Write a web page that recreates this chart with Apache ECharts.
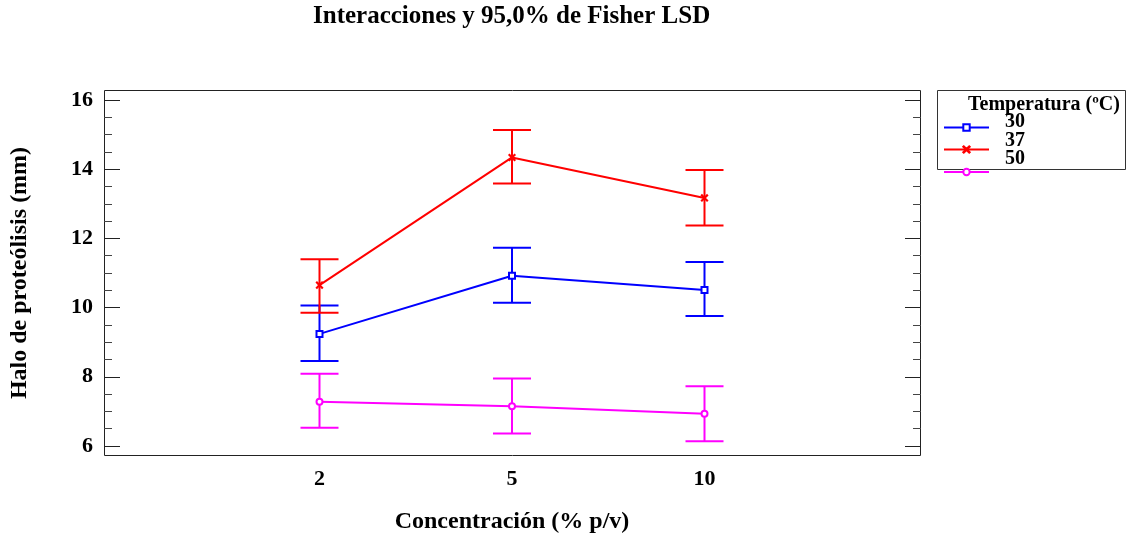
<!DOCTYPE html>
<html>
<head>
<meta charset="utf-8">
<script src="https://cdn.jsdelivr.net/npm/echarts@6/dist/echarts.min.js"></script>
<style>
  html, body { margin: 0; padding: 0; background: #fff; }
  #chart { width: 1128px; height: 535px; }
</style>
</head>
<body>
<div id="chart"></div>
<script>
// Concentration levels (% p/v) on the x axis
const categories = ['2', '5', '10'];
// Temperature groups (ºC)
const temperatures = ['30', '37', '50'];

// Mean halo of proteolysis (mm) per concentration
const mean30 = [9.24, 10.92, 10.51];
const mean37 = [10.65, 14.34, 13.17];
const mean50 = [7.28, 7.15, 6.93];

// 95% Fisher LSD interval bounds
const low30 = [8.46, 10.14, 9.76];
const high30 = [10.06, 11.73, 11.32];
const low37 = [9.85, 13.59, 12.37];
const high37 = [11.40, 15.13, 13.98];
const low50 = [6.53, 6.36, 6.14];
const high50 = [8.09, 7.95, 7.73];

// Y axis ticks
const yTicks = [6, 8, 10, 12, 14, 16];

const FONT = "'Liberation Serif', 'Times New Roman', serif";
const colors = ['#0000ff', '#ff0000', '#ff00ff'];
const symbols = [
  'emptyRect',
  'path://M0,0.8L0.8,0L5,4.2L9.2,0L10,0.8L5.8,5L10,9.2L9.2,10L5,5.8L0.8,10L0,9.2L4.2,5Z',
  'emptyCircle'
];
const symbolSizes = [6, 6, 6];
const means = [mean30, mean37, mean50];
const lows = [low30, low37, low50];
const highs = [high30, high37, high50];

function errorBarRenderer(color) {
  return function (params, api) {
    const x = api.value(0);
    const lo = api.coord([x, api.value(1)]);
    const hi = api.coord([x, api.value(2)]);
    const half = 19;
    const style = { stroke: color, lineWidth: 2 };
    return {
      type: 'group',
      children: [
        { type: 'line', shape: { x1: lo[0], y1: lo[1], x2: hi[0], y2: hi[1] }, style: style },
        { type: 'line', shape: { x1: lo[0] - half, y1: lo[1], x2: lo[0] + half, y2: lo[1] }, style: style },
        { type: 'line', shape: { x1: hi[0] - half, y1: hi[1], x2: hi[0] + half, y2: hi[1] }, style: style }
      ]
    };
  };
}

const series = [];
temperatures.forEach(function (t, i) {
  series.push({
    name: t,
    type: 'line',
    data: means[i],
    symbol: symbols[i],
    symbolSize: symbolSizes[i],
    showAllSymbol: true,
    color: colors[i],
    lineStyle: { color: colors[i], width: 2 },
    itemStyle: { color: colors[i], borderColor: colors[i], borderWidth: 1.5 },
    z: 4,
    animation: false
  });
});
temperatures.forEach(function (t, i) {
  series.push({
    name: 'LSD ' + t,
    type: 'custom',
    renderItem: errorBarRenderer(colors[i]),
    data: categories.map(function (c, k) { return [k, lows[i][k], highs[i][k]]; }),
    encode: { x: 0, y: [1, 2] },
    z: 3,
    animation: false
  });
});

// One legend block per temperature, stacked under the legend heading.
// The label sits on the first of two lines, which lifts it above the sample line.
const legendTops = [112, 131, 145];
const legendLineHeights = [11, 17, 27];
const legends = temperatures.map(function (t, i) {
  return {
    data: [t],
    left: 943,
    top: legendTops[i],
    padding: 0,
    itemWidth: 45,
    itemHeight: 8,
    selectedMode: false,
    formatter: function (name) { return name + '\n'; },
    textStyle: {
      fontFamily: FONT, fontSize: 20, fontWeight: 'bold', color: '#000',
      lineHeight: legendLineHeights[i], padding: [0, 0, 0, 11]
    }
  };
});

const axisTextStyle = { fontFamily: FONT, fontSize: 22, fontWeight: 'bold', color: '#000' };
const nameTextStyle = { fontFamily: FONT, fontSize: 24, fontWeight: 'bold', color: '#000' };

function yAxisDef(side) {
  const left = side === 'left';
  return {
    type: 'value',
    position: side,
    offset: left ? 215.5 : 216.5,
    min: yTicks[0],
    max: yTicks[yTicks.length - 1],
    interval: yTicks[1] - yTicks[0],
    axisLine: { show: false },
    axisTick: { show: true, inside: true, length: 16, lineStyle: { color: '#222', width: 1 } },
    minorTick: { show: true, splitNumber: 4, length: 8, lineStyle: { color: '#444', width: 1 } },
    splitLine: { show: false },
    axisLabel: left ? Object.assign({ margin: 11 }, axisTextStyle) : { show: false },
    name: left ? 'Halo de proteólisis (mm)' : '',
    nameLocation: 'middle',
    nameGap: 72,
    nameRotate: 90,
    nameTextStyle: nameTextStyle
  };
}

const option = {
  backgroundColor: '#fff',
  animation: false,
  title: [
    {
      text: 'Interacciones y 95,0% de Fisher LSD',
      left: 313, top: 4, padding: 0,
      textStyle: { fontFamily: FONT, fontSize: 25, fontWeight: 'bold', color: '#000' }
    },
    {
      text: 'Temperatura (ºC)',
      left: 968, top: 95, padding: 0,
      textStyle: { fontFamily: FONT, fontSize: 20, fontWeight: 'bold', color: '#000' }
    }
  ],
  legend: legends,
  grid: { left: 319.5, right: 423.5, top: 100, bottom: 89, outerBoundsMode: 'none' },
  xAxis: {
    type: 'category',
    data: categories,
    boundaryGap: false,
    axisLine: { show: false },
    axisTick: { show: false },
    splitLine: { show: false },
    axisLabel: Object.assign({ margin: 22 }, axisTextStyle),
    name: 'Concentración (% p/v)',
    nameLocation: 'middle',
    nameGap: 64,
    nameTextStyle: nameTextStyle
  },
  yAxis: [yAxisDef('left'), yAxisDef('right')],
  graphic: [
    {
      type: 'rect', z: 0, silent: true,
      shape: { x: 104.5, y: 90.5, width: 816, height: 365 },
      style: { fill: 'none', stroke: '#222', lineWidth: 1 }
    },
    {
      type: 'rect', z: 0, silent: true,
      shape: { x: 937.5, y: 90.5, width: 188, height: 79 },
      style: { fill: 'none', stroke: '#333', lineWidth: 1 }
    }
  ],
  series: series
};

const chart = echarts.init(document.getElementById('chart'), null, { renderer: 'canvas' });
chart.setOption(option);
</script>
</body>
</html>
